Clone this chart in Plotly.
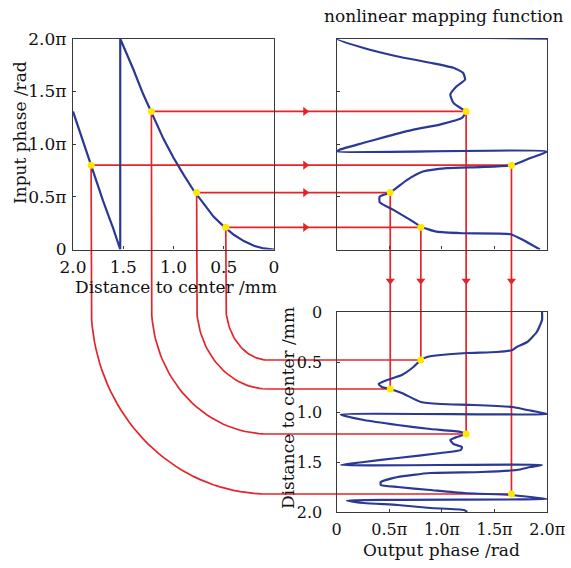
import math
import plotly.graph_objects as go

# ---------------- data (phases in units of pi, distance in mm) ----------------
# panel 1: input phase vs distance to center
p1_dist = [0, 0.1, 0.2, 0.3, 0.4, 0.5, 0.6, 0.7, 0.8, 0.9, 1.0, 1.1, 1.2, 1.3, 1.4, 1.53,
           1.53, 1.6, 1.7, 1.8, 1.9, 2.0]
p1_phase = [0, 0.01, 0.035, 0.08, 0.14, 0.22, 0.31, 0.43, 0.56, 0.71, 0.87, 1.05, 1.26, 1.47, 1.71, 2.0,
            0.0, 0.20, 0.46, 0.74, 1.02, 1.31]

# panel 2: nonlinear mapping function (output phase vs input phase)
p2_out = [1.93, 1.77, 1.65, 1.20, 0.95, 0.80, 0.70, 0.54, 0.41, 0.41,
          0.51, 0.67, 0.82, 1.05, 1.36, 1.66, 1.84, 2.0, 0.0, 0.03,
          0.25, 0.48, 0.73, 0.98, 1.19, 1.23, 1.19, 1.11, 1.08, 1.14,
          1.22, 1.20, 1.11, 0.89, 0.57, 0.25, 0.0, 2.0]
p2_in = [0.0, 0.09, 0.145, 0.154, 0.169, 0.217, 0.281, 0.376, 0.449, 0.502,
         0.540, 0.661, 0.740, 0.773, 0.782, 0.797, 0.868, 0.93, 0.93, 0.947,
         1.010, 1.073, 1.137, 1.185, 1.248, 1.311, 1.334, 1.391, 1.470, 1.549,
         1.613, 1.677, 1.724, 1.772, 1.834, 1.914, 2.0, 2.0]

# panel 3: output phase vs distance to center
p3_out = [1.95, 1.95, 1.90, 1.81, 1.71, 1.67, 1.52, 1.24, 0.99, 0.86,
          0.80, 0.73, 0.62, 0.48, 0.40, 0.43, 0.51, 0.62, 0.80, 0.99,
          1.30, 1.67, 1.81, 2.0, 0.04, 0.26, 0.58, 0.89, 1.18, 1.23,
          1.14, 1.08, 1.11, 1.19, 1.18, 0.99, 0.58, 0.26, 0.04, 1.95,
          1.84, 1.71, 1.37, 0.89, 0.58, 0.42, 0.42, 0.58, 0.89, 1.21,
          1.65, 1.84, 2.0, 0.10, 0.26, 0.58, 0.89, 1.21, 1.24]
p3_dist = [0.0, 0.08, 0.20, 0.30, 0.35, 0.38, 0.40, 0.41, 0.43, 0.45,
           0.48, 0.55, 0.63, 0.68, 0.72, 0.75, 0.77, 0.81, 0.90, 0.92,
           0.93, 0.95, 0.98, 1.02, 1.025, 1.08, 1.13, 1.17, 1.20, 1.22,
           1.25, 1.28, 1.32, 1.35, 1.38, 1.41, 1.46, 1.50, 1.53, 1.53,
           1.55, 1.58, 1.60, 1.61, 1.65, 1.70, 1.73, 1.75, 1.78, 1.81,
           1.83, 1.85, 1.87, 1.885, 1.91, 1.93, 1.96, 1.98, 2.0]

# highlighted sample points
pt_dist = [0.48, 0.77, 1.22, 1.82]
pt_in = [0.21, 0.54, 1.31, 0.80]
pt_out = [0.80, 0.51, 1.23, 1.66]

# tick labels
phase_vals = [0, 0.5, 1.0, 1.5, 2.0]
phase_text = ["0", "0.5\u03c0", "1.0\u03c0", "1.5\u03c0", "2.0\u03c0"]
dist_vals = [2.0, 1.5, 1.0, 0.5, 0]
dist_text = ["2.0", "1.5", "1.0", "0.5", "0"]
dist3_text = ["0", "0.5", "1.0", "1.5", "2.0"]

# ---------------- layout geometry (pixels) ----------------
W, H = 571, 568
P1 = dict(left=73, right=274, top=38.7, bottom=249.5)
P2 = dict(left=336.5, right=547.3, top=38.7, bottom=249.5)
P3 = dict(left=336.5, right=547.3, top=312, bottom=512)
ARC_X_PX, ARC_Y_PX = 268, 305

def dx(p):
    return [p["left"] / W, p["right"] / W]

def dy(p):
    return [1 - p["bottom"] / H, 1 - p["top"] / H]

R1x, R1y = [2, 0], [0, 2]
R2x, R2y = [0, 2], [0, 2]
R3x, R3y = [0, 2], [2, 0]

def to_paper(v, rng, dom):
    return dom[0] + (v - rng[0]) / (rng[1] - rng[0]) * (dom[1] - dom[0])

RED = "#e3252b"
BLUE = "#2b3896"
YEL = "#ffe800"
FONT = "DejaVu Serif"

# ---------------- connectors ----------------
lx, ly = [], []
ax_h, ay_h, ax_v, ay_v = [], [], [], []
ARC_X, ARC_Y = ARC_X_PX / W, 1 - ARC_Y_PX / H
gap_x = (P1["right"] + P2["left"]) / 2 / W
gap_y = 1 - (P2["bottom"] + P3["top"]) / 2 / H
for d, a, b in zip(pt_dist, pt_in, pt_out):
    x1 = to_paper(d, R1x, dx(P1))
    y1 = to_paper(a, R1y, dy(P1))
    x2 = to_paper(b, R2x, dx(P2))
    y3 = to_paper(d, R3y, dy(P3))
    lx += [x1, x2, None]; ly += [y1, y1, None]
    lx += [x2, x2, None]; ly += [y1, y3, None]
    rx, ry = ARC_X - x1, ARC_Y - y3
    px, py = [x1], [y1]
    for k in range(41):
        t = math.pi / 2 * k / 40
        px.append(ARC_X - rx * math.cos(t))
        py.append(ARC_Y - ry * math.sin(t))
    px.append(x2); py.append(y3)
    lx += px + [None]; ly += py + [None]
    ax_h.append(gap_x); ay_h.append(y1)
    ax_v.append(x2); ay_v.append(gap_y)

fig = go.Figure()
fig.add_trace(go.Scatter(x=lx, y=ly, mode="lines", line=dict(color=RED, width=1.7),
                         xaxis="x", yaxis="y", hoverinfo="skip"))
fig.add_trace(go.Scatter(x=ax_h, y=ay_h, mode="markers",
                         marker=dict(symbol="triangle-right", size=8, color=RED),
                         xaxis="x", yaxis="y", hoverinfo="skip"))
fig.add_trace(go.Scatter(x=ax_v, y=ay_v, mode="markers",
                         marker=dict(symbol="triangle-down", size=8, color=RED),
                         xaxis="x", yaxis="y", hoverinfo="skip"))

blue = dict(color=BLUE, width=2.2, shape="spline", smoothing=0.5)
fig.add_trace(go.Scatter(x=p1_dist, y=p1_phase, mode="lines", line=dict(color=BLUE, width=2.2),
                         xaxis="x2", yaxis="y2"))
fig.add_trace(go.Scatter(x=pt_dist, y=pt_in, mode="markers", marker=dict(color=YEL, size=7),
                         xaxis="x2", yaxis="y2"))
fig.add_trace(go.Scatter(x=p2_out, y=p2_in, mode="lines", line=blue,
                         xaxis="x3", yaxis="y3"))
fig.add_trace(go.Scatter(x=pt_out, y=pt_in, mode="markers", marker=dict(color=YEL, size=7),
                         xaxis="x3", yaxis="y3"))
fig.add_trace(go.Scatter(x=p3_out, y=p3_dist, mode="lines", line=blue,
                         xaxis="x4", yaxis="y4"))
fig.add_trace(go.Scatter(x=pt_out, y=pt_dist, mode="markers", marker=dict(color=YEL, size=7),
                         xaxis="x4", yaxis="y4"))

def ax(dom, rng, anchor, vals=None, text=None, show=True, size=16, standoff=4):
    d = dict(domain=dom, range=rng, anchor=anchor, showline=True, mirror=True,
             linecolor="#3a3a3a", linewidth=1.2, ticks="inside", ticklen=3,
             tickcolor="#3a3a3a", showgrid=False, zeroline=False, fixedrange=True,
             automargin=False, layer="below traces",
             tickvals=vals if vals is not None else phase_vals,
             showticklabels=show, tickfont=dict(family=FONT, size=size, color="#111"),
             ticklabelstandoff=standoff)
    if text is not None:
        d["ticktext"] = text
    return d

fig.update_layout(
    template="none",
    width=W, height=H, margin=dict(l=0, r=0, t=0, b=0, autoexpand=False),
    paper_bgcolor="white", plot_bgcolor="rgba(0,0,0,0)", showlegend=False,
    xaxis=dict(domain=[0, 1], range=[0, 1], visible=False, fixedrange=True, automargin=False),
    yaxis=dict(domain=[0, 1], range=[0, 1], visible=False, fixedrange=True, automargin=False),
    xaxis2=ax(dx(P1), R1x, "y2", dist_vals, dist_text, size=17, standoff=2),
    yaxis2=ax(dy(P1), R1y, "x2", phase_vals, phase_text, size=17, standoff=2),
    xaxis3=ax(dx(P2), R2x, "y3", phase_vals, None, show=False),
    yaxis3=ax(dy(P2), R2y, "x3", phase_vals, None, show=False),
    xaxis4=ax(dx(P3), R3x, "y4", phase_vals, phase_text, size=16, standoff=3),
    yaxis4=ax(dy(P3), R3y, "x4", phase_vals, dist3_text, size=16, standoff=10),
)

def title(text, xpx, ypx, angle=0):
    fig.add_annotation(text=text, x=xpx / W, y=1 - ypx / H, xref="paper", yref="paper",
                       showarrow=False, textangle=angle, xanchor="center", yanchor="middle",
                       font=dict(family=FONT, size=17, color="#111"))

title("Input phase /rad", 20, 133, -90)
title("Distance to center /mm", 176, 287)
title("nonlinear mapping function", 444, 16)
title("Distance to center /mm", 288, 408, -90)
title("Output phase /rad", 441, 550)

fig.write_html("out.html", config={"displayModeBar": False},
               post_script="document.body.style.margin='0px';document.body.style.overflow='hidden';")
